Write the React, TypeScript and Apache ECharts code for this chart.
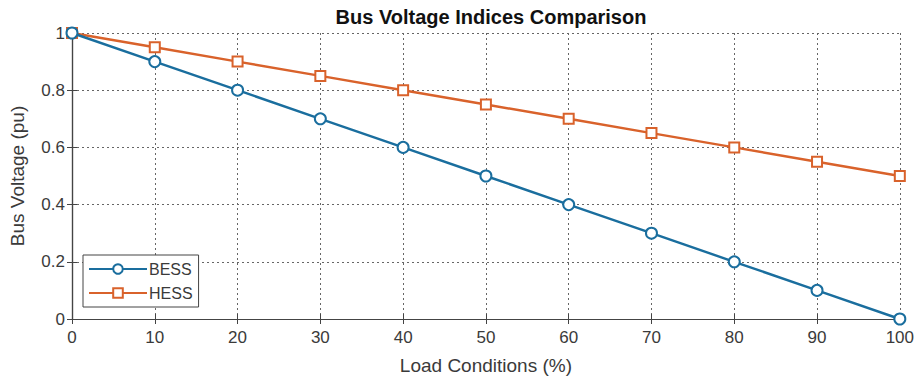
import React, { useEffect, useRef } from "react";
import * as echarts from "echarts";

const loadLevels = [0, 10, 20, 30, 40, 50, 60, 70, 80, 90, 100];
const bessValues = [1, 0.9, 0.8, 0.7, 0.6, 0.5, 0.4, 0.3, 0.2, 0.1, 0];
const hessValues = [1, 0.95, 0.9, 0.85, 0.8, 0.75, 0.7, 0.65, 0.6, 0.55, 0.5];

const FONT = "Liberation Sans, Arial, sans-serif";
const TXT = "#3a3a3a";
const BLUE = "#1a6e9e";
const ORANGE = "#d9622b";

export default function App() {
  const ref = useRef<HTMLDivElement>(null);
  useEffect(() => {
    if (!ref.current) return;
    const chart = echarts.init(ref.current, undefined, { renderer: "svg" });
    const gridLine = { show: true, lineStyle: { color: "#666", type: [2, 3] as any, width: 1 } };
    const axisLine = { show: true, lineStyle: { color: "#444", width: 1.2 } };
    const tick = { show: true, inside: true, length: 5, lineStyle: { color: "#444" } };
    chart.setOption({
      animation: false,
      backgroundColor: "#fff",
      title: {
        text: "Bus Voltage Indices Comparison",
        left: 486,
        textAlign: "center",
        top: 2,
        textStyle: { fontFamily: FONT, fontSize: 20, fontWeight: "bold", color: "#111" },
      },
      legend: {
        left: 83,
        top: 255,
        orient: "vertical",
        backgroundColor: "#fff",
        borderColor: "#444",
        borderWidth: 1,
        borderRadius: 0,
        padding: [6, 6, 6, 5],
        itemGap: 8,
        itemWidth: 58,
        itemHeight: 12,
        textStyle: { fontFamily: FONT, fontSize: 16, color: TXT, padding: [0, 0, 0, -3] },
        data: ["BESS", "HESS"],
      },
      grid: { left: 68, right: 16, top: 33, bottom: 63 },
      xAxis: [
        {
          type: "value",
          min: 0,
          max: 100,
          interval: 10,
          name: "Load Conditions (%)",
          nameLocation: "middle",
          nameGap: 37,
          nameTextStyle: { fontFamily: FONT, fontSize: 19, color: TXT },
          axisLine,
          axisTick: tick,
          axisLabel: { fontFamily: FONT, fontSize: 17, color: TXT, margin: 10 },
          splitLine: gridLine,
        },
        {
          type: "value",
          position: "top",
          min: 0,
          max: 100,
          interval: 10,
          axisLine,
          axisTick: tick,
          axisLabel: { show: false },
          splitLine: { show: false },
        },
      ],
      yAxis: [
        {
          type: "value",
          min: 0,
          max: 1,
          interval: 0.2,
          name: "Bus Voltage (pu)",
          nameLocation: "middle",
          nameGap: 45,
          nameTextStyle: { fontFamily: FONT, fontSize: 19, color: TXT },
          axisLine,
          axisTick: tick,
          axisLabel: { fontFamily: FONT, fontSize: 17, color: TXT, margin: 7 },
          splitLine: gridLine,
        },
        {
          type: "value",
          position: "right",
          min: 0,
          max: 1,
          interval: 0.2,
          axisLine,
          axisTick: tick,
          axisLabel: { show: false },
          splitLine: { show: false },
        },
      ],
      series: [
        {
          name: "BESS",
          type: "line",
          data: loadLevels.map((x, i) => [x, bessValues[i]]),
          symbol: "emptyCircle",
          symbolSize: 11,
          lineStyle: { color: BLUE, width: 2.4 },
          itemStyle: { color: BLUE, borderColor: BLUE, borderWidth: 2 },
          z: 3,
        },
        {
          name: "HESS",
          type: "line",
          data: loadLevels.map((x, i) => [x, hessValues[i]]),
          symbol: "emptyRect",
          symbolSize: 10,
          lineStyle: { color: ORANGE, width: 2.4 },
          itemStyle: { color: ORANGE, borderColor: ORANGE, borderWidth: 2 },
          z: 2,
        },
      ],
    });
    return () => chart.dispose();
  }, []);
  return (
    <div
      ref={ref}
      style={{ position: "absolute", left: 0, top: 0, width: 917, height: 382 }}
    />
  );
}
